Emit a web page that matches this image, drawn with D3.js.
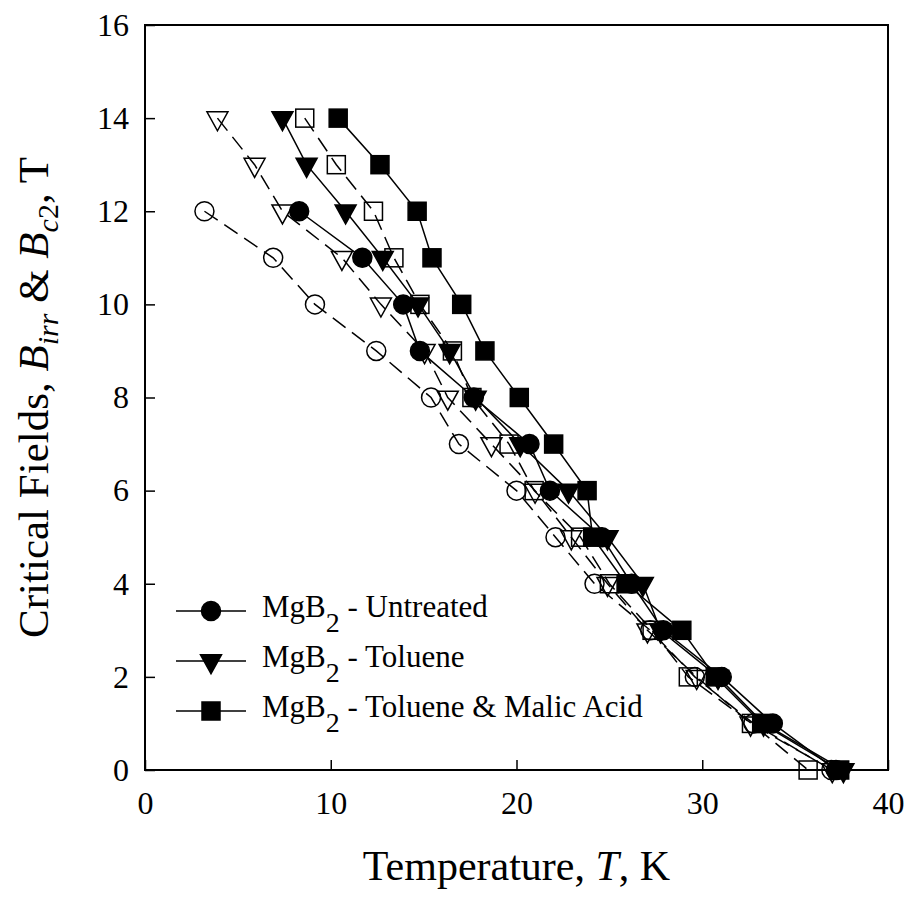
<!DOCTYPE html>
<html>
<head>
<meta charset="utf-8">
<script src="https://cdn.jsdelivr.net/npm/d3@7"></script>
<style>
  body { margin: 0; background: #fff; }
  svg { display: block; }
  text { font-family: "Liberation Serif", "Times New Roman", serif; fill: #000; }
</style>
</head>
<body>
<div id="chart"></div>
<script>
// Field levels (T) at which each curve was measured
const fieldsFull = [14, 13, 12, 11, 10, 9, 8, 7, 6, 5, 4, 3, 2, 1, 0];
const fieldsCircle = [12, 11, 10, 9, 8, 7, 6, 5, 4, 3, 2, 1, 0];

// Temperatures (K)
const tUntreated = [8.3, 11.7, 13.9, 14.8, 17.7, 20.7, 21.8, 24.6, 26.2, 27.9, 31.05, 33.8, 37.2];
const tUntreatedOpen = [3.2, 6.9, 9.15, 12.45, 15.4, 16.9, 20.0, 22.1, 24.2, 27.2, 29.6, 32.75, 36.95];
const tToluene = [7.4, 8.7, 10.8, 12.8, 14.7, 16.4, 17.8, 20.2, 22.8, 24.9, 26.8, 27.75, 30.85, 33.3, 37.6];
const tTolueneOpen = [3.9, 5.9, 7.4, 10.6, 12.7, 15.05, 16.3, 18.65, 21.0, 22.95, 24.9, 27.05, 29.7, 32.6, 37.0];
const tMalic = [10.4, 12.65, 14.65, 15.45, 17.05, 18.3, 20.15, 22.0, 23.8, 24.1, 25.9, 28.9, 30.7, 33.2, 37.4];
const tMalicOpen = [8.6, 10.3, 12.3, 13.4, 14.8, 16.55, 17.6, 19.6, 20.95, 23.45, 25.0, 27.3, 29.25, 32.65, 35.7];

const xTicks = [0, 10, 20, 30, 40];
const yTicks = [0, 2, 4, 6, 8, 10, 12, 14, 16];

const legendLabels = ["Untreated", "Toluene", "Toluene & Malic Acid"];

const series = [
  { fields: fieldsCircle, temps: tUntreatedOpen, shape: "circle", filled: false },
  { fields: fieldsFull, temps: tTolueneOpen, shape: "triangle", filled: false },
  { fields: fieldsFull, temps: tMalicOpen, shape: "square", filled: false },
  { fields: fieldsCircle, temps: tUntreated, shape: "circle", filled: true },
  { fields: fieldsFull, temps: tToluene, shape: "triangle", filled: true },
  { fields: fieldsFull, temps: tMalic, shape: "square", filled: true }
];

const width = 911, height = 901;
const plotLeft = 145, plotRight = 888, plotTop = 25, plotBottom = 770;

const svg = d3.select("#chart").append("svg")
  .attr("width", width)
  .attr("height", height);

const x = d3.scaleLinear().domain([0, 40]).range([plotLeft, plotRight]);
const y = d3.scaleLinear().domain([0, 16]).range([plotBottom, plotTop]);

// draw one marker, centred on the point
function marker(g, shape, cx, cy, filled) {
  const fill = filled ? "#000" : "none";
  if (shape === "circle") {
    g.append("circle").attr("cx", cx).attr("cy", cy).attr("r", 9.5)
      .attr("fill", fill).attr("stroke", "#000").attr("stroke-width", 1.5);
  } else if (shape === "square") {
    const s = 18;
    g.append("rect").attr("x", cx - s / 2).attr("y", cy - s / 2)
      .attr("width", s).attr("height", s)
      .attr("fill", fill).attr("stroke", "#000").attr("stroke-width", 1.5);
  } else {
    const w = 21, h = 19;
    g.append("path")
      .attr("d", `M${cx - w / 2},${cy - h / 3}L${cx + w / 2},${cy - h / 3}L${cx},${cy + 2 * h / 3}Z`)
      .attr("fill", fill).attr("stroke", "#000").attr("stroke-width", 1.5)
      .attr("stroke-linejoin", "miter");
  }
}

// Axes (ticks point inward)
svg.append("g")
  .attr("transform", `translate(0,${plotBottom})`)
  .call(d3.axisBottom(x).tickValues(xTicks).tickSize(-10).tickPadding(21).tickFormat(d3.format("d")))
  .attr("font-family", null)
  .attr("font-size", 32)
  .call(g => g.select(".domain").remove())
  .call(g => g.selectAll(".tick line").attr("stroke", "#000").attr("stroke-width", 1.5));

svg.append("g")
  .attr("transform", `translate(${plotLeft},0)`)
  .call(d3.axisLeft(y).tickValues(yTicks).tickSize(-10).tickPadding(16).tickFormat(d3.format("d")))
  .attr("font-family", null)
  .attr("font-size", 32)
  .call(g => g.select(".domain").remove())
  .call(g => g.selectAll(".tick line").attr("stroke", "#000").attr("stroke-width", 1.5));

// Frame
svg.append("rect")
  .attr("x", plotLeft).attr("y", plotTop)
  .attr("width", plotRight - plotLeft).attr("height", plotBottom - plotTop)
  .attr("fill", "none").attr("stroke", "#000").attr("stroke-width", 2);

// Lines and markers
const line = d3.line().x(d => x(d.t)).y(d => y(d.b));
const plot = svg.append("g");

series.forEach(s => {
  const pts = s.fields.map((b, i) => ({ b: b, t: s.temps[i] }));
  plot.append("path")
    .attr("d", line(pts))
    .attr("fill", "none")
    .attr("stroke", "#000")
    .attr("stroke-width", 1.5)
    .attr("stroke-dasharray", s.filled ? null : "16,8");
});

series.forEach(s => {
  const g = plot.append("g");
  s.fields.forEach((b, i) => marker(g, s.shape, x(s.temps[i]), y(b), s.filled));
});

// Legend
const legendShapes = ["circle", "triangle", "square"];
const legend = svg.append("g");
legendLabels.forEach((label, i) => {
  const ly = 611 + i * 50;
  legend.append("line")
    .attr("x1", 176).attr("x2", 246).attr("y1", ly).attr("y2", ly)
    .attr("stroke", "#000").attr("stroke-width", 1.5);
  marker(legend, legendShapes[i], 211, ly, true);
  const t = legend.append("text").attr("x", 262).attr("y", ly + 6).attr("font-size", 31);
  t.append("tspan").text("MgB");
  t.append("tspan").attr("font-size", 28).attr("dy", 15).text("2");
  t.append("tspan").attr("dy", -15).text(" - " + label);
});

// Axis titles
const xt = svg.append("text")
  .attr("x", (plotLeft + plotRight) / 2).attr("y", 880)
  .attr("text-anchor", "middle").attr("font-size", 42);
xt.append("tspan").text("Temperature, ");
xt.append("tspan").attr("font-style", "italic").text("T");
xt.append("tspan").text(", K");

const yt = svg.append("text")
  .attr("transform", `translate(48,${(plotTop + plotBottom) / 2}) rotate(-90)`)
  .attr("text-anchor", "middle").attr("font-size", 43);
yt.append("tspan").text("Critical Fields, ");
yt.append("tspan").attr("font-style", "italic").text("B");
yt.append("tspan").attr("font-style", "italic").attr("font-size", 30).attr("dy", 10).text("irr");
yt.append("tspan").attr("dy", -10).text(" & ");
yt.append("tspan").attr("font-style", "italic").text("B");
yt.append("tspan").attr("font-style", "italic").attr("font-size", 30).attr("dy", 10).text("c");
yt.append("tspan").attr("font-size", 30).text("2");
yt.append("tspan").attr("dy", -10).text(", T");
</script>
</body>
</html>
